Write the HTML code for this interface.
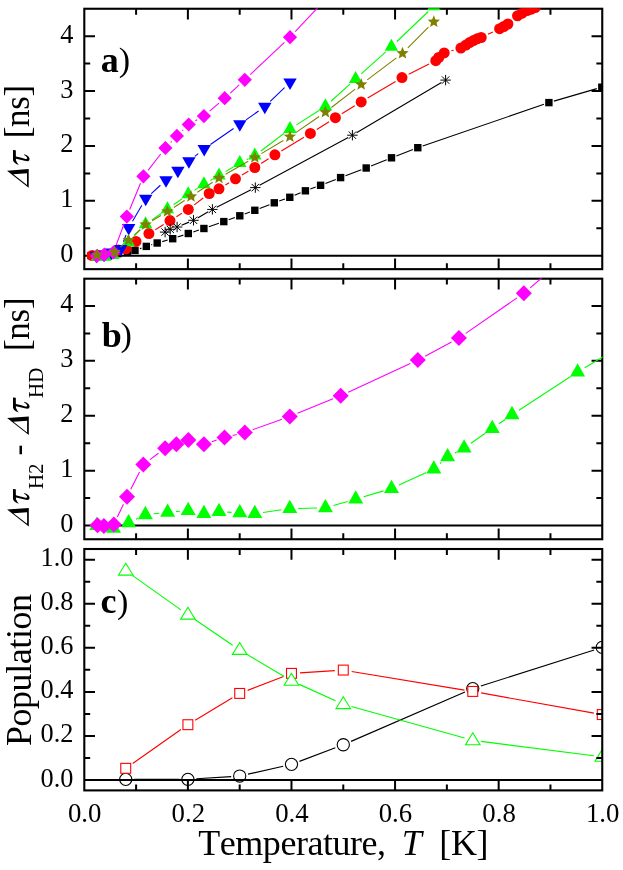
<!DOCTYPE html>
<html lang="en">
<head>
<meta charset="utf-8">
<title>Delay and population vs temperature</title>
<style>
html,body{margin:0;padding:0;background:#fff;}
body{width:623px;height:870px;overflow:hidden;font-family:"Liberation Serif",serif;}
svg{display:block;will-change:transform;}
text{font-kerning:none;}
</style>
</head>
<body>
<svg width="623" height="870" viewBox="0 0 623 870" font-family="'Liberation Serif', serif" fill="#000">
<defs><clipPath id="ca"><rect x="84.3" y="8.35" width="518.35" height="260.8"/></clipPath><clipPath id="cb"><rect x="84.3" y="278.3" width="518.35" height="260.95"/></clipPath><clipPath id="cc"><rect x="84.3" y="549" width="518.35" height="241.4"/></clipPath></defs>
<rect width="623" height="870" fill="#fff"/>
<path d="M136.09 8.75V14.65M136.09 269.15V263.25M187.89 8.75V19.45M187.89 269.15V258.45M239.69 8.75V14.65M239.69 269.15V263.25M291.48 8.75V19.45M291.48 269.15V258.45M343.28 8.75V14.65M343.28 269.15V263.25M395.07 8.75V19.45M395.07 269.15V258.45M446.87 8.75V14.65M446.87 269.15V263.25M498.66 8.75V19.45M498.66 269.15V258.45M550.46 8.75V14.65M550.46 269.15V263.25M84.3 200.85H95M602.25 200.85H591.55M84.3 145.95H95M602.25 145.95H591.55M84.3 91.05H95M602.25 91.05H591.55M84.3 36.15H95M602.25 36.15H591.55M84.3 228.3H90.2M602.25 228.3H596.35M84.3 173.4H90.2M602.25 173.4H596.35M84.3 118.5H90.2M602.25 118.5H596.35M84.3 63.6H90.2M602.25 63.6H596.35" stroke="#000" stroke-width="2" fill="none" stroke-linecap="butt"/>
<rect x="84.3" y="8.75" width="517.95" height="260.4" fill="none" stroke="#000" stroke-width="2.1"/>
<path d="M84.3 255.75H602.25" stroke="#000" stroke-width="2.1"/>
<g clip-path="url(#ca)">
<path d="M139.9 248.66L141.4 248.14M151.26 244.85L152.24 244.55M162.21 241.61L167.69 240.09M177.63 237.06L183.37 235.14M193.25 231.91L198.95 230.09M208.81 226.8L218.89 223.3M228.69 219.83L234.91 217.57M244.68 214.01L249.92 212.09M259.65 208.43L269.45 204.67M279.2 201.06L284.9 199.04M294.6 195.3L300.6 192.8M310.29 189.03L315.71 187.07M325.45 183.43L335.75 179.47M345.47 175.77L361.33 169.83M371.02 166.06L386.68 159.74M396.35 155.94L412.95 149.56M422.72 146.01L543.98 104.29M553.89 101.15L596.81 88.65" stroke="#000" stroke-width="1.1" fill="none"/>
<rect x="87.3" y="251.9" width="7.4" height="7.4" fill="#000"/><rect x="93.3" y="251.7" width="7.4" height="7.4" fill="#000"/><rect x="100.3" y="251.5" width="7.4" height="7.4" fill="#000"/><rect x="107.3" y="250.9" width="7.4" height="7.4" fill="#000"/><rect x="114.3" y="249.9" width="7.4" height="7.4" fill="#000"/><rect x="123.8" y="247.9" width="7.4" height="7.4" fill="#000"/><rect x="131.3" y="246.7" width="7.4" height="7.4" fill="#000"/><rect x="142.6" y="242.7" width="7.4" height="7.4" fill="#000"/><rect x="153.5" y="239.3" width="7.4" height="7.4" fill="#000"/><rect x="169" y="235" width="7.4" height="7.4" fill="#000"/><rect x="184.6" y="229.8" width="7.4" height="7.4" fill="#000"/><rect x="200.2" y="224.8" width="7.4" height="7.4" fill="#000"/><rect x="220.1" y="217.9" width="7.4" height="7.4" fill="#000"/><rect x="236.1" y="212.1" width="7.4" height="7.4" fill="#000"/><rect x="251.1" y="206.6" width="7.4" height="7.4" fill="#000"/><rect x="270.6" y="199.1" width="7.4" height="7.4" fill="#000"/><rect x="286.1" y="193.6" width="7.4" height="7.4" fill="#000"/><rect x="301.7" y="187.1" width="7.4" height="7.4" fill="#000"/><rect x="316.9" y="181.6" width="7.4" height="7.4" fill="#000"/><rect x="336.9" y="173.9" width="7.4" height="7.4" fill="#000"/><rect x="362.5" y="164.3" width="7.4" height="7.4" fill="#000"/><rect x="387.8" y="154.1" width="7.4" height="7.4" fill="#000"/><rect x="414.1" y="144" width="7.4" height="7.4" fill="#000"/><rect x="545.2" y="98.9" width="7.4" height="7.4" fill="#000"/><rect x="598.1" y="83.5" width="7.4" height="7.4" fill="#000"/>
<path d="M155.29 229.67L163.61 224.53M176.4 216.68L181.9 213.32M194.27 204.86L203.23 198.04M225.41 184.91L229.09 182.69M241.97 175.01L248.33 171.29M261.14 163.49L268.56 158.81M281.32 150.93L303.98 137.27M316.75 129.41L329.05 121.69M341.8 113.78L354.8 105.82M367.64 98.06L395.56 81.44M408.71 74.25L429.09 64.05M451.41 50.83L453.69 50.17M487.97 34.26L492.83 31.94M541.55 3.61L553.65 -4.01" stroke="#f00" stroke-width="1.1" fill="none"/>
<circle cx="92.2" cy="255.5" r="5.5" fill="#f00"/><circle cx="98" cy="255.3" r="5.5" fill="#f00"/><circle cx="104" cy="255" r="5.5" fill="#f00"/><circle cx="110" cy="254.3" r="5.5" fill="#f00"/><circle cx="118.5" cy="250" r="5.5" fill="#f00"/><circle cx="126" cy="248.8" r="5.5" fill="#f00"/><circle cx="136" cy="241.4" r="5.5" fill="#f00"/><circle cx="148.9" cy="233.6" r="5.5" fill="#f00"/><circle cx="170" cy="220.6" r="5.5" fill="#f00"/><circle cx="188.3" cy="209.4" r="5.5" fill="#f00"/><circle cx="209.2" cy="193.5" r="5.5" fill="#f00"/><circle cx="219" cy="188.8" r="5.5" fill="#f00"/><circle cx="235.5" cy="178.8" r="5.5" fill="#f00"/><circle cx="254.8" cy="167.5" r="5.5" fill="#f00"/><circle cx="274.9" cy="154.8" r="5.5" fill="#f00"/><circle cx="310.4" cy="133.4" r="5.5" fill="#f00"/><circle cx="335.4" cy="117.7" r="5.5" fill="#f00"/><circle cx="361.2" cy="101.9" r="5.5" fill="#f00"/><circle cx="402" cy="77.6" r="5.5" fill="#f00"/><circle cx="435.8" cy="60.7" r="5.5" fill="#f00"/><circle cx="438.7" cy="57.5" r="5.5" fill="#f00"/><circle cx="444.2" cy="52.9" r="5.5" fill="#f00"/><circle cx="460.9" cy="48.1" r="5.5" fill="#f00"/><circle cx="465.9" cy="45.1" r="5.5" fill="#f00"/><circle cx="469.6" cy="42.6" r="5.5" fill="#f00"/><circle cx="473.4" cy="40.6" r="5.5" fill="#f00"/><circle cx="477.1" cy="38.8" r="5.5" fill="#f00"/><circle cx="481.2" cy="37.5" r="5.5" fill="#f00"/><circle cx="499.6" cy="28.7" r="5.5" fill="#f00"/><circle cx="503.8" cy="26.5" r="5.5" fill="#f00"/><circle cx="507.9" cy="24" r="5.5" fill="#f00"/><circle cx="517.5" cy="15.8" r="5.5" fill="#f00"/><circle cx="522.3" cy="13.2" r="5.5" fill="#f00"/><circle cx="527.1" cy="10.6" r="5.5" fill="#f00"/><circle cx="531.3" cy="9.2" r="5.5" fill="#f00"/><circle cx="535.2" cy="7.6" r="5.5" fill="#f00"/><circle cx="560" cy="-8" r="5.5" fill="#f00"/>
<path d="M181.54 225.18L189.06 222.12M197.66 217.9L208.24 211.8M216.68 207.23L251.02 189.77M259.52 185.32L348.18 137.48M356.53 132.76L441.47 82.54" stroke="#000" stroke-width="1.1" fill="none"/>
<path d="M159.9 232.1H170.3M165.1 226.9V237.3M161.42 228.42L168.78 235.78M161.42 235.78L168.78 228.42" stroke="#000" stroke-width="1" fill="none"/><path d="M165 229.3H175.4M170.2 224.1V234.5M166.52 225.62L173.88 232.98M166.52 232.98L173.88 225.62" stroke="#000" stroke-width="1" fill="none"/><path d="M171.9 227H182.3M177.1 221.8V232.2M173.42 223.32L180.78 230.68M173.42 230.68L180.78 223.32" stroke="#000" stroke-width="1" fill="none"/><path d="M188.3 220.3H198.7M193.5 215.1V225.5M189.82 216.62L197.18 223.98M189.82 223.98L197.18 216.62" stroke="#000" stroke-width="1" fill="none"/><path d="M207.2 209.4H217.6M212.4 204.2V214.6M208.72 205.72L216.08 213.08M208.72 213.08L216.08 205.72" stroke="#000" stroke-width="1" fill="none"/><path d="M250.1 187.6H260.5M255.3 182.4V192.8M251.62 183.92L258.98 191.28M251.62 191.28L258.98 183.92" stroke="#000" stroke-width="1" fill="none"/><path d="M347.2 135.2H357.6M352.4 130V140.4M348.72 131.52L356.08 138.88M348.72 138.88L356.08 131.52" stroke="#000" stroke-width="1" fill="none"/><path d="M440.4 80.1H450.8M445.6 74.9V85.3M441.92 76.42L449.28 83.78M441.92 83.78L449.28 76.42" stroke="#000" stroke-width="1" fill="none"/>
<path d="M118.77 250.12L122.33 247.18M133.47 236.87L140.33 229.73M151.86 219.94L161.14 213.56M173.58 204.82L182.02 198.78M194.59 190.24L197.51 188.36M210.49 180.46L212.41 179.34M225.51 171.64L233.29 166.96M246.6 159.65L248 158.95M260.86 150.97L283.94 133.53M296.41 124.86L318.99 110.44M331.03 101.24L349.97 84.06M361.25 73.87L385.75 51.83M396.9 41.5L428.3 11.5" stroke="#0f0" stroke-width="1.1" fill="none"/>
<polygon points="97.5,248.75 90.8,260.75 104.2,260.75" fill="#0f0"/><polygon points="105,248.75 98.3,260.75 111.7,260.75" fill="#0f0"/><polygon points="112.9,246.95 106.2,258.95 119.6,258.95" fill="#0f0"/><polygon points="128.2,234.35 121.5,246.35 134.9,246.35" fill="#0f0"/><polygon points="145.6,216.25 138.9,228.25 152.3,228.25" fill="#0f0"/><polygon points="167.4,201.25 160.7,213.25 174.1,213.25" fill="#0f0"/><polygon points="188.2,186.35 181.5,198.35 194.9,198.35" fill="#0f0"/><polygon points="203.9,176.25 197.2,188.25 210.6,188.25" fill="#0f0"/><polygon points="219,167.55 212.3,179.55 225.7,179.55" fill="#0f0"/><polygon points="239.8,155.05 233.1,167.05 246.5,167.05" fill="#0f0"/><polygon points="254.8,147.55 248.1,159.55 261.5,159.55" fill="#0f0"/><polygon points="290,120.95 283.3,132.95 296.7,132.95" fill="#0f0"/><polygon points="325.4,98.35 318.7,110.35 332.1,110.35" fill="#0f0"/><polygon points="355.6,70.95 348.9,82.95 362.3,82.95" fill="#0f0"/><polygon points="391.4,38.75 384.7,50.75 398.1,50.75" fill="#0f0"/><polygon points="433.8,-1.75 427.1,10.25 440.5,10.25" fill="#0f0"/>
<path d="M123.45 241.68L126 234.99M132.52 221.32L141.88 205.25M151.3 193.55L160.4 185.22M194.82 156.42L198.28 153.65M210.44 144.55L233.56 128.52M246.03 119.83L258.57 111.04M270.27 101.41L284.53 87.66" stroke="#00f" stroke-width="1.1" fill="none"/>
<polygon points="96.3,263.25 89.6,251.75 103,251.75" fill="#00f"/><polygon points="104,262.35 97.3,250.85 110.7,250.85" fill="#00f"/><polygon points="111.3,259.95 104.6,248.45 118,248.45" fill="#00f"/><polygon points="120.75,256.45 114.05,244.95 127.45,244.95" fill="#00f"/><polygon points="128.7,235.55 122,224.05 135.4,224.05" fill="#00f"/><polygon points="145.7,206.35 139,194.85 152.4,194.85" fill="#00f"/><polygon points="166,187.75 159.3,176.25 172.7,176.25" fill="#00f"/><polygon points="177.9,178.25 171.2,166.75 184.6,166.75" fill="#00f"/><polygon points="188.9,168.85 182.2,157.35 195.6,157.35" fill="#00f"/><polygon points="204.2,156.55 197.5,145.05 210.9,145.05" fill="#00f"/><polygon points="239.8,131.85 233.1,120.35 246.5,120.35" fill="#00f"/><polygon points="264.8,114.35 258.1,102.85 271.5,102.85" fill="#00f"/><polygon points="290,90.05 283.3,78.55 296.7,78.55" fill="#00f"/>
<path d="M116.15 245.18L124.15 223.72M129.69 209.57L140.51 183.33M148.06 170.3L160.74 154M170.64 142.49L171.66 141.41M182.37 130.62L183.23 129.78M195.35 120.82L197.25 119.78M209.66 111.14L218.94 103.16M230.31 93.07L239.19 84.93M250.33 74.58L284.47 42.37M295.2 31.61L335.5 -11.26" stroke="#f0f" stroke-width="1.1" fill="none"/>
<polygon points="97,248.9 104.1,256 97,263.1 89.9,256" fill="#f0f"/><polygon points="104.3,247.6 111.4,254.7 104.3,261.8 97.2,254.7" fill="#f0f"/><polygon points="113.5,245.2 120.6,252.3 113.5,259.4 106.4,252.3" fill="#f0f"/><polygon points="126.8,209.5 133.9,216.6 126.8,223.7 119.7,216.6" fill="#f0f"/><polygon points="143.4,169.2 150.5,176.3 143.4,183.4 136.3,176.3" fill="#f0f"/><polygon points="165.4,140.9 172.5,148 165.4,155.1 158.3,148" fill="#f0f"/><polygon points="176.9,128.8 184,135.9 176.9,143 169.8,135.9" fill="#f0f"/><polygon points="188.7,117.4 195.8,124.5 188.7,131.6 181.6,124.5" fill="#f0f"/><polygon points="203.9,109 211,116.1 203.9,123.2 196.8,116.1" fill="#f0f"/><polygon points="224.7,91.1 231.8,98.2 224.7,105.3 217.6,98.2" fill="#f0f"/><polygon points="244.8,72.7 251.9,79.8 244.8,86.9 237.7,79.8" fill="#f0f"/><polygon points="290,30.05 297.1,37.15 290,44.25 282.9,37.15" fill="#f0f"/><polygon points="340.7,-23.9 347.8,-16.8 340.7,-9.7 333.6,-16.8" fill="#f0f"/>
<path d="M104.5 253.76L107.1 253.34M120.39 247.18L122.81 245.12M134.2 235.06L140 229.74M152.11 220.69L160.89 215.41M173.81 207.42L184.59 200.58M197.34 192.31L212.66 182.19M225.6 174.22L248.2 161.28M261.34 153.63L283.36 140.57M296.15 132.38L319.15 116.52M331.41 107.55L355.19 89.15M367.26 79.92L396.44 57.88M407.86 47.91L428.44 27.19" stroke="#808000" stroke-width="1.1" fill="none"/>
<polygon points="97,248.5 98.68,252.69 103.18,252.99 99.72,255.88 100.82,260.26 97,257.86 93.18,260.26 94.28,255.88 90.82,252.99 95.32,252.69" fill="#808000"/><polygon points="114.6,245.6 116.28,249.79 120.78,250.09 117.32,252.98 118.42,257.36 114.6,254.96 110.78,257.36 111.88,252.98 108.42,250.09 112.92,249.79" fill="#808000"/><polygon points="128.6,233.7 130.28,237.89 134.78,238.19 131.32,241.08 132.42,245.46 128.6,243.06 124.78,245.46 125.88,241.08 122.42,238.19 126.92,237.89" fill="#808000"/><polygon points="145.6,218.1 147.28,222.29 151.78,222.59 148.32,225.48 149.42,229.86 145.6,227.46 141.78,229.86 142.88,225.48 139.42,222.59 143.92,222.29" fill="#808000"/><polygon points="167.4,205 169.08,209.19 173.58,209.49 170.12,212.38 171.22,216.76 167.4,214.36 163.58,216.76 164.68,212.38 161.22,209.49 165.72,209.19" fill="#808000"/><polygon points="191,190 192.68,194.19 197.18,194.49 193.72,197.38 194.82,201.76 191,199.36 187.18,201.76 188.28,197.38 184.82,194.49 189.32,194.19" fill="#808000"/><polygon points="219,171.5 220.68,175.69 225.18,175.99 221.72,178.88 222.82,183.26 219,180.86 215.18,183.26 216.28,178.88 212.82,175.99 217.32,175.69" fill="#808000"/><polygon points="254.8,151 256.48,155.19 260.98,155.49 257.52,158.38 258.62,162.76 254.8,160.36 250.98,162.76 252.08,158.38 248.62,155.49 253.12,155.19" fill="#808000"/><polygon points="289.9,130.2 291.58,134.39 296.08,134.69 292.62,137.58 293.72,141.96 289.9,139.56 286.08,141.96 287.18,137.58 283.72,134.69 288.22,134.39" fill="#808000"/><polygon points="325.4,105.7 327.08,109.89 331.58,110.19 328.12,113.08 329.22,117.46 325.4,115.06 321.58,117.46 322.68,113.08 319.22,110.19 323.72,109.89" fill="#808000"/><polygon points="361.2,78 362.88,82.19 367.38,82.49 363.92,85.38 365.02,89.76 361.2,87.36 357.38,89.76 358.48,85.38 355.02,82.49 359.52,82.19" fill="#808000"/><polygon points="402.5,46.8 404.18,50.99 408.68,51.29 405.22,54.18 406.32,58.56 402.5,56.16 398.68,58.56 399.78,54.18 396.32,51.29 400.82,50.99" fill="#808000"/><polygon points="433.8,15.3 435.48,19.49 439.98,19.79 436.52,22.68 437.62,27.06 433.8,24.66 429.98,27.06 431.08,22.68 427.62,19.79 432.12,19.49" fill="#808000"/>
</g>
<text x="73.4" y="262.25" text-anchor="end" font-size="26.3">0</text>
<text x="73.4" y="207.35" text-anchor="end" font-size="26.3">1</text>
<text x="73.4" y="152.45" text-anchor="end" font-size="26.3">2</text>
<text x="73.4" y="97.55" text-anchor="end" font-size="26.3">3</text>
<text x="73.4" y="42.65" text-anchor="end" font-size="26.3">4</text>
<path d="M136.09 278.7V284.6M136.09 539.25V533.35M187.89 278.7V289.4M187.89 539.25V528.55M239.69 278.7V284.6M239.69 539.25V533.35M291.48 278.7V289.4M291.48 539.25V528.55M343.28 278.7V284.6M343.28 539.25V533.35M395.07 278.7V289.4M395.07 539.25V528.55M446.87 278.7V284.6M446.87 539.25V533.35M498.66 278.7V289.4M498.66 539.25V528.55M550.46 278.7V284.6M550.46 539.25V533.35M84.3 470.65H95M602.25 470.65H591.55M84.3 415.75H95M602.25 415.75H591.55M84.3 360.85H95M602.25 360.85H591.55M84.3 305.95H95M602.25 305.95H591.55M84.3 498.1H90.2M602.25 498.1H596.35M84.3 443.2H90.2M602.25 443.2H596.35M84.3 388.3H90.2M602.25 388.3H596.35M84.3 333.4H90.2M602.25 333.4H596.35" stroke="#000" stroke-width="2" fill="none" stroke-linecap="butt"/>
<rect x="84.3" y="278.7" width="517.95" height="260.55" fill="none" stroke="#000" stroke-width="2.1"/>
<path d="M84.3 525.55H602.25" stroke="#000" stroke-width="2.1"/>
<g clip-path="url(#cb)">
<path d="M104.98 526.94L105.32 527M136.06 519.28L137.94 518.36M153.65 513.82L159.35 513.21M175.87 511.63L179.93 511.3M227.29 512.09L231.51 512.34M263.02 512.44L281.58 509.79M298.1 508.43L317.1 508M333.38 505.53L347.72 501.41M363.66 496.76L383.54 490.87M399.04 485.04L426.26 472.49M440.02 463.52L441.38 462.31M454.92 452.91L456.78 451.92M470.92 443.28L485.38 433.25M499.01 423.77L505.19 419.46M518.96 410.19L570.64 376.54M584.72 367.75L607.88 353.88" stroke="#0f0" stroke-width="1.1" fill="none"/>
<polygon points="96.8,516.65 89.3,529.95 104.3,529.95" fill="#0f0"/><polygon points="113.5,519.55 106,532.85 121,532.85" fill="#0f0"/><polygon points="128.6,514.05 121.1,527.35 136.1,527.35" fill="#0f0"/><polygon points="145.4,505.85 137.9,519.15 152.9,519.15" fill="#0f0"/><polygon points="167.6,503.45 160.1,516.75 175.1,516.75" fill="#0f0"/><polygon points="188.2,501.75 180.7,515.05 195.7,515.05" fill="#0f0"/><polygon points="203.9,504.75 196.4,518.05 211.4,518.05" fill="#0f0"/><polygon points="219,502.75 211.5,516.05 226.5,516.05" fill="#0f0"/><polygon points="239.8,503.95 232.3,517.25 247.3,517.25" fill="#0f0"/><polygon points="254.8,504.75 247.3,518.05 262.3,518.05" fill="#0f0"/><polygon points="289.8,499.75 282.3,513.05 297.3,513.05" fill="#0f0"/><polygon points="325.4,498.95 317.9,512.25 332.9,512.25" fill="#0f0"/><polygon points="355.7,490.25 348.2,503.55 363.2,503.55" fill="#0f0"/><polygon points="391.5,479.65 384,492.95 399,492.95" fill="#0f0"/><polygon points="433.8,460.15 426.3,473.45 441.3,473.45" fill="#0f0"/><polygon points="447.6,447.95 440.1,461.25 455.1,461.25" fill="#0f0"/><polygon points="464.1,439.15 456.6,452.45 471.6,452.45" fill="#0f0"/><polygon points="492.2,419.65 484.7,432.95 499.7,432.95" fill="#0f0"/><polygon points="512,405.85 504.5,419.15 519.5,419.15" fill="#0f0"/><polygon points="577.6,363.15 570.1,376.45 585.1,376.45" fill="#0f0"/><polygon points="615,340.75 607.5,354.05 622.5,354.05" fill="#0f0"/>
<path d="M117.36 517L123.44 504.2M130.76 489.3L139.54 472M149.95 459.63L158.45 453.27M211.78 441.7L216.62 440.1M232.56 435.51L236.74 434.49M252.62 429.72L281.98 419.28M297.48 413.36L333.02 398.84M348.24 392.22L410.26 363.58M425.12 356.18L451.58 342.02M465.73 333.38L516.97 297.92M530.13 287.83L570.67 253.37" stroke="#f0f" stroke-width="1.1" fill="none"/>
<polygon points="97.5,517.2 105.5,525.2 97.5,533.2 89.5,525.2" fill="#f0f"/><polygon points="103.9,518.1 111.9,526.1 103.9,534.1 95.9,526.1" fill="#f0f"/><polygon points="113.8,516.5 121.8,524.5 113.8,532.5 105.8,524.5" fill="#f0f"/><polygon points="127,488.7 135,496.7 127,504.7 119,496.7" fill="#f0f"/><polygon points="143.3,456.6 151.3,464.6 143.3,472.6 135.3,464.6" fill="#f0f"/><polygon points="165.1,440.3 173.1,448.3 165.1,456.3 157.1,448.3" fill="#f0f"/><polygon points="176.4,436.3 184.4,444.3 176.4,452.3 168.4,444.3" fill="#f0f"/><polygon points="188.4,432 196.4,440 188.4,448 180.4,440" fill="#f0f"/><polygon points="203.9,436.3 211.9,444.3 203.9,452.3 195.9,444.3" fill="#f0f"/><polygon points="224.5,429.5 232.5,437.5 224.5,445.5 216.5,437.5" fill="#f0f"/><polygon points="244.8,424.5 252.8,432.5 244.8,440.5 236.8,432.5" fill="#f0f"/><polygon points="289.8,408.5 297.8,416.5 289.8,424.5 281.8,416.5" fill="#f0f"/><polygon points="340.7,387.7 348.7,395.7 340.7,403.7 332.7,395.7" fill="#f0f"/><polygon points="417.8,352.1 425.8,360.1 417.8,368.1 409.8,360.1" fill="#f0f"/><polygon points="458.9,330.1 466.9,338.1 458.9,346.1 450.9,338.1" fill="#f0f"/><polygon points="523.8,285.2 531.8,293.2 523.8,301.2 515.8,293.2" fill="#f0f"/><polygon points="577,240 585,248 577,256 569,248" fill="#f0f"/>
</g>
<text x="73.4" y="532.05" text-anchor="end" font-size="26.3">0</text>
<text x="73.4" y="477.15" text-anchor="end" font-size="26.3">1</text>
<text x="73.4" y="422.25" text-anchor="end" font-size="26.3">2</text>
<text x="73.4" y="367.35" text-anchor="end" font-size="26.3">3</text>
<text x="73.4" y="312.45" text-anchor="end" font-size="26.3">4</text>
<g clip-path="url(#cc)">
<path d="M134.24 779.34L179.39 779.34M196.37 778.8L231.2 776.58M247.98 774.17L283.19 766.23M299.43 761.35L335.33 747.76M351.07 741.37L464.96 691.96M480.86 686L594.15 649.96" stroke="#000" stroke-width="1.15" fill="none"/>
<circle cx="125.74" cy="779.34" r="6.1" fill="#fff" stroke="#000" stroke-width="1.1"/><circle cx="187.89" cy="779.34" r="6.1" fill="#fff" stroke="#000" stroke-width="1.1"/><circle cx="239.69" cy="776.03" r="6.1" fill="#fff" stroke="#000" stroke-width="1.1"/><circle cx="291.48" cy="764.36" r="6.1" fill="#fff" stroke="#000" stroke-width="1.1"/><circle cx="343.28" cy="744.75" r="6.1" fill="#fff" stroke="#000" stroke-width="1.1"/><circle cx="472.76" cy="688.58" r="6.1" fill="#fff" stroke="#000" stroke-width="1.1"/><circle cx="602.25" cy="647.38" r="6.1" fill="#fff" stroke="#000" stroke-width="1.1"/>
<path d="M132.69 763.44L180.93 729.59M195.17 720.31L232.41 697.82M247.61 690.35L283.55 676.44M299.96 672.83L334.79 670.61M351.66 671.45L464.38 690.06M481.13 692.93L593.88 713.08" stroke="#f00" stroke-width="1.15" fill="none"/>
<rect x="120.79" y="763.37" width="9.9" height="9.9" fill="#fff" stroke="#f00" stroke-width="1.1"/><rect x="182.94" y="719.75" width="9.9" height="9.9" fill="#fff" stroke="#f00" stroke-width="1.1"/><rect x="234.74" y="688.47" width="9.9" height="9.9" fill="#fff" stroke="#f00" stroke-width="1.1"/><rect x="286.53" y="668.42" width="9.9" height="9.9" fill="#fff" stroke="#f00" stroke-width="1.1"/><rect x="338.33" y="665.12" width="9.9" height="9.9" fill="#fff" stroke="#f00" stroke-width="1.1"/><rect x="467.81" y="686.49" width="9.9" height="9.9" fill="#fff" stroke="#f00" stroke-width="1.1"/><rect x="597.3" y="709.62" width="9.9" height="9.9" fill="#fff" stroke="#f00" stroke-width="1.1"/>
<path d="M132.67 575.63L180.96 609.86M194.92 619.56L232.66 645.24M246.99 654.37L284.18 676.52M299.23 684.36L335.53 700.72M351.46 706.5L464.58 738.06M481.19 741.42L593.82 755.79" stroke="#0f0" stroke-width="1.15" fill="none"/>
<polygon points="125.74,563.18 118.44,575.08 133.04,575.08" fill="#fff" stroke="#0f0" stroke-width="1.1" stroke-linejoin="miter"/><polygon points="187.89,607.24 180.59,619.14 195.19,619.14" fill="#fff" stroke="#0f0" stroke-width="1.1" stroke-linejoin="miter"/><polygon points="239.69,642.49 232.38,654.39 246.99,654.39" fill="#fff" stroke="#0f0" stroke-width="1.1" stroke-linejoin="miter"/><polygon points="291.48,673.33 284.18,685.23 298.78,685.23" fill="#fff" stroke="#0f0" stroke-width="1.1" stroke-linejoin="miter"/><polygon points="343.28,696.68 335.98,708.58 350.58,708.58" fill="#fff" stroke="#0f0" stroke-width="1.1" stroke-linejoin="miter"/><polygon points="472.76,732.81 465.46,744.71 480.06,744.71" fill="#fff" stroke="#0f0" stroke-width="1.1" stroke-linejoin="miter"/><polygon points="602.25,749.34 594.95,761.24 609.55,761.24" fill="#fff" stroke="#0f0" stroke-width="1.1" stroke-linejoin="miter"/>
</g>
<path d="M136.09 549V554.9M136.09 790.4V784.5M187.89 549V559.7M187.89 790.4V779.7M239.69 549V554.9M239.69 790.4V784.5M291.48 549V559.7M291.48 790.4V779.7M343.28 549V554.9M343.28 790.4V784.5M395.07 549V559.7M395.07 790.4V779.7M446.87 549V554.9M446.87 790.4V784.5M498.66 549V559.7M498.66 790.4V779.7M550.46 549V554.9M550.46 790.4V784.5M84.3 735.94H95M602.25 735.94H591.55M84.3 691.88H95M602.25 691.88H591.55M84.3 647.82H95M602.25 647.82H591.55M84.3 603.76H95M602.25 603.76H591.55M84.3 559.7H95M602.25 559.7H591.55M84.3 757.97H90.2M602.25 757.97H596.35M84.3 713.91H90.2M602.25 713.91H596.35M84.3 669.85H90.2M602.25 669.85H596.35M84.3 625.79H90.2M602.25 625.79H596.35M84.3 581.73H90.2M602.25 581.73H596.35" stroke="#000" stroke-width="2" fill="none" stroke-linecap="butt"/>
<rect x="84.3" y="549" width="517.95" height="241.4" fill="none" stroke="#000" stroke-width="2.1"/>
<path d="M84.3 780H602.25" stroke="#000" stroke-width="2.1"/>
<text x="73.4" y="786.5" text-anchor="end" font-size="26.3">0.0</text>
<text x="73.4" y="742.44" text-anchor="end" font-size="26.3">0.2</text>
<text x="73.4" y="698.38" text-anchor="end" font-size="26.3">0.4</text>
<text x="73.4" y="654.32" text-anchor="end" font-size="26.3">0.6</text>
<text x="73.4" y="610.26" text-anchor="end" font-size="26.3">0.8</text>
<text x="73.4" y="566.2" text-anchor="end" font-size="26.3">1.0</text>
<text x="84.7" y="821.8" text-anchor="middle" font-size="26.8">0.0</text>
<text x="188.29" y="821.8" text-anchor="middle" font-size="26.8">0.2</text>
<text x="291.88" y="821.8" text-anchor="middle" font-size="26.8">0.4</text>
<text x="395.47" y="821.8" text-anchor="middle" font-size="26.8">0.6</text>
<text x="499.06" y="821.8" text-anchor="middle" font-size="26.8">0.8</text>
<text x="602.65" y="821.8" text-anchor="middle" font-size="26.8">1.0</text>
<text y="855.3" font-size="36"><tspan x="198.3" letter-spacing="-0.47">Temperature,</tspan><tspan x="401.8" font-style="italic">T</tspan><tspan x="439.3" letter-spacing="-0.4">[K]</tspan></text>
<text y="71.8" font-size="36"><tspan x="100.7" font-weight="bold">a</tspan><tspan x="118.7" dy="-0.4" font-size="34.2">)</tspan></text>
<text y="346.6" font-size="36"><tspan x="101.7" font-weight="bold">b</tspan><tspan x="120.6" dy="-0.4" font-size="34.2">)</tspan></text>
<text y="613.1" font-size="36"><tspan x="100.4" font-weight="bold">c</tspan><tspan x="116.9" dy="-0.4" font-size="34.2">)</tspan></text>
<path d="M28.7 187.7L28.7 169.1L7 170.7ZM27 185.07L13.3 174.33L27 173.33Z" fill="#000" fill-rule="evenodd"/>
<path d="M13 150.1L13 160.3Q13.3 162.7 16.3 163.9L18.9 165Q17.1 163.3 16 160.5L15.9 158.7L20.5 159.7L24.7 160.75Q28.3 161.7 29.3 160.3Q30 158.7 28.9 156.9Q27.3 155 24 154.2L24.2 154.9Q26.4 156.1 27.1 157.7Q27.5 159.3 25.5 158.9L20.5 157.6L15.9 156.45L15.8 150.35Z" fill="#000"/>
<g transform="translate(28.7 0) rotate(-90)" font-size="35"><text x="-138.3" y="0" letter-spacing="-0.3">[ns]</text></g>
<path d="M28.8 526.5L28.8 507.9L7.1 509.5ZM27.1 523.87L13.4 513.13L27.1 512.13Z" fill="#000" fill-rule="evenodd"/>
<path d="M28.8 435.1L28.8 416.5L7.1 418.1ZM27.1 432.47L13.4 421.73L27.1 420.73Z" fill="#000" fill-rule="evenodd"/>
<path d="M13 488.9L13 499.1Q13.3 501.5 16.3 502.7L18.9 503.8Q17.1 502.1 16 499.3L15.9 497.5L20.5 498.5L24.7 499.55Q28.3 500.5 29.3 499.1Q30 497.5 28.9 495.7Q27.3 493.8 24 493L24.2 493.7Q26.4 494.9 27.1 496.5Q27.5 498.1 25.5 497.7L20.5 496.4L15.9 495.25L15.8 489.15Z" fill="#000"/>
<path d="M13 397.6L13 407.8Q13.3 410.2 16.3 411.4L18.9 412.5Q17.1 410.8 16 408L15.9 406.2L20.5 407.2L24.7 408.25Q28.3 409.2 29.3 407.8Q30 406.2 28.9 404.4Q27.3 402.5 24 401.7L24.2 402.4Q26.4 403.6 27.1 405.2Q27.5 406.8 25.5 406.4L20.5 405.1L15.9 403.95L15.8 397.85Z" fill="#000"/>
<g transform="translate(28.7 0) rotate(-90)" font-size="35"><text x="-489.1" y="14.2" font-size="21">H2</text><text x="-455.6" y="0.6" font-size="33">-</text><text x="-397.9" y="14.2" font-size="21">HD</text><text x="-351.0" y="0" letter-spacing="-0.3">[ns]</text></g>
<g transform="translate(30.9 0) rotate(-90)" font-size="35.9"><text x="-746.1" y="0" letter-spacing="-0.38">Population</text></g>
</svg>
</body>
</html>
